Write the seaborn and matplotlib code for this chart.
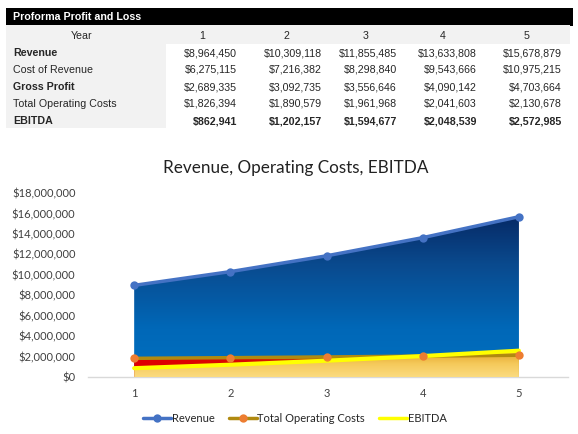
import numpy as np
import pandas as pd
import matplotlib
matplotlib.use("Agg")
import matplotlib.pyplot as plt
import seaborn as sns
from matplotlib.colors import LinearSegmentedColormap
from matplotlib.patches import Rectangle
from matplotlib.lines import Line2D
from matplotlib.ticker import FuncFormatter

# ---- data ----
years = [1, 2, 3, 4, 5]
revenue = [8964450, 10309118, 11855485, 13633808, 15678879]
cost_of_revenue = [6275115, 7216382, 8298840, 9543666, 10975215]
gross_profit = [2689335, 3092735, 3556646, 4090142, 4703664]
total_operating_costs = [1826394, 1890579, 1961968, 2041603, 2130678]
ebitda = [862941, 1202157, 1594677, 2048539, 2572985]

table_title = "Proforma Profit and Loss"
row_labels = ["Revenue", "Cost of Revenue", "Gross Profit", "Total Operating Costs", "EBITDA"]
chart_title = "Revenue, Operating Costs, EBITDA"
yticks = [0, 2e6, 4e6, 6e6, 8e6, 10e6, 12e6, 14e6, 16e6, 18e6]

sns.set_style("white")
plt.rcParams['font.family'] = ['Lato', 'DejaVu Sans']

W, H = 578, 434
fig = plt.figure(figsize=(W / 100, H / 100), dpi=100)

def fx(x):
    return x / W

def fy(y):
    return 1 - y / H

# ---- table ----
tfont = ['Liberation Sans', 'DejaVu Sans']
TS = 7.7
fig.patches.append(Rectangle((fx(6), fy(25.5)), fx(567), 17.5 / H, transform=fig.transFigure,
                             facecolor='black', edgecolor='none'))
fig.text(fx(13), fy(17.5), table_title, color='white', fontsize=TS, fontweight='bold',
         family=tfont, va='center', ha='left')
fig.patches.append(Rectangle((fx(6), fy(44)), fx(564), 18.5 / H, transform=fig.transFigure,
                             facecolor='#F2F2F2', edgecolor='none'))
fig.patches.append(Rectangle((fx(6), fy(128)), fx(160), 84 / H, transform=fig.transFigure,
                             facecolor='#F2F2F2', edgecolor='none'))
col_centers = [202, 286, 366, 443, 527]
col_rights = [237, 322, 397, 477, 562]
fig.text(fx(82), fy(36), "Year", fontsize=TS, family=tfont, ha='center', va='center')
for c, yv in zip(col_centers, years):
    fig.text(fx(c), fy(36), str(yv), fontsize=TS, family=tfont, ha='center', va='center')

rows = [revenue, cost_of_revenue, gross_profit, total_operating_costs, ebitda]
label_bold = [True, False, True, False, True]
value_bold = [False, False, False, False, True]
row_y = [53, 70, 87, 104, 121]
for lab, vals, lb, vb, ry in zip(row_labels, rows, label_bold, value_bold, row_y):
    fig.text(fx(13), fy(ry), lab, fontsize=TS, family=tfont, ha='left', va='center',
             fontweight='bold' if lb else 'normal')
    for r, v in zip(col_rights, vals):
        fig.text(fx(r), fy(ry), f"${v:,.0f}", fontsize=TS, family=tfont, ha='right', va='center',
                 fontweight='bold' if vb else 'normal')

# ---- chart ----
ax = fig.add_axes([fx(88), fy(377), fx(480), (377 - 193) / H])
x = np.array(years, dtype=float)

def grad_fill(ax, x, y, stops, zorder, horizontal=False, ext=None):
    poly = ax.fill_between(x, 0, y, facecolor='none', edgecolor='none', zorder=zorder)
    path = poly.get_paths()[0]
    cmap = LinearSegmentedColormap.from_list('g', stops)
    if horizontal:
        data = np.linspace(0, 1, 256).reshape(1, -1)
    else:
        data = np.linspace(0, 1, 256).reshape(-1, 1)
    if ext is None:
        ext = [x.min(), x.max(), 0, max(y)]
    img = ax.imshow(data, cmap=cmap, aspect='auto', extent=ext, origin='lower',
                    zorder=zorder, interpolation='bilinear')
    img.set_clip_path(path, transform=ax.transData)

grad_fill(ax, x, revenue,
          [(0, '#0070C0'), (0.3, '#0068B8'), (0.7, '#0A4A8E'), (1, '#062A66')], 1)
grad_fill(ax, x, total_operating_costs,
          [(0, '#E00000'), (0.3, '#DA0800'), (0.55, '#B86A00'), (0.75, '#B08A10'), (1, '#A88A10')], 2,
          horizontal=True)
grad_fill(ax, x, ebitda,
          [(0, '#FBDB80'), (0.5, '#F5C95A'), (1, '#E0A020')], 3)

df = pd.DataFrame({"Year": years, "Revenue": revenue,
                   "Total Operating Costs": total_operating_costs, "EBITDA": ebitda})
sns.lineplot(data=df, x="Year", y="Revenue", ax=ax, color='#4472C4', lw=2.5,
             marker='o', markersize=6, markeredgewidth=0, zorder=5)
sns.lineplot(data=df, x="Year", y="Total Operating Costs", ax=ax, color='#B08A10', lw=2.5,
             zorder=6)
sns.lineplot(data=df, x="Year", y="EBITDA", ax=ax, color='#FFFF00', lw=3, zorder=7)
ax.plot(x, total_operating_costs, linestyle='none', marker='o', markersize=6,
        color='#ED7D31', markeredgewidth=0, zorder=8)

ax.set_xlim(0.52, 5.51)
ax.set_ylim(0, 18e6)
ax.set_yticks(yticks)
ax.yaxis.set_major_formatter(FuncFormatter(lambda v, p: f"${v:,.0f}"))
ax.set_xticks(years)
ax.set_xlabel("")
ax.set_ylabel("")
for s in ['top', 'right', 'left']:
    ax.spines[s].set_visible(False)
ax.spines['bottom'].set_color('#D9D9D9')
ax.spines['bottom'].set_linewidth(1)
ax.tick_params(axis='both', length=0, labelsize=8, colors='#404040')
ax.tick_params(axis='x', pad=8)
ax.tick_params(axis='y', pad=9)
ax.grid(False)
ax.set_facecolor('none')

fig.text(fx(296), fy(168), chart_title, fontsize=12.3, ha='center', va='center', color='#222222')

handles = [
    Line2D([0], [0], color='#4472C4', lw=2.5, marker='o', markersize=6, markeredgewidth=0),
    Line2D([0], [0], color='#B08A10', lw=2.5, marker='o', markersize=6, markerfacecolor='#ED7D31',
           markeredgewidth=0),
    Line2D([0], [0], color='#FFFF00', lw=2.5),
]
fig.legend(handles, ["Revenue", "Total Operating Costs", "EBITDA"], loc='center',
           bbox_to_anchor=(fx(295), fy(418)), ncol=3, frameon=False, fontsize=8,
           handlelength=2.5, handletextpad=0.05, columnspacing=1.3)

fig.savefig("out.png", dpi=100)
